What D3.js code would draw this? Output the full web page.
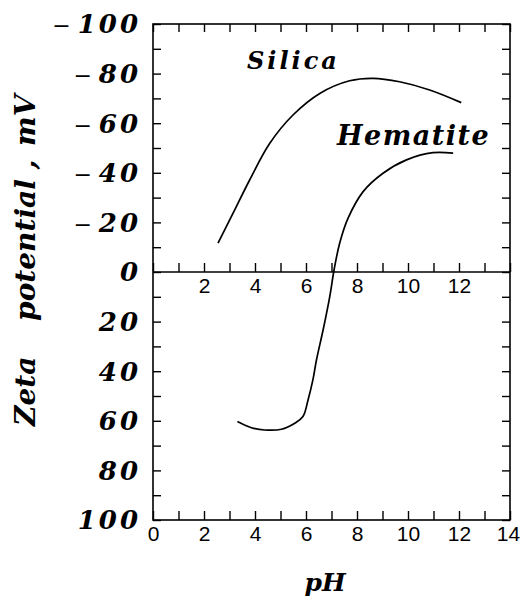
<!DOCTYPE html>
<html>
<head>
<meta charset="utf-8">
<script src="https://cdn.jsdelivr.net/npm/d3@7"></script>
<style>
  body { margin: 0; background: #fff; }
  svg { display: block; }
</style>
</head>
<body>
<div id="chart"></div>
<script>
// zeta potential vs pH
var silicaPH   = [2.55, 3.14, 3.79, 4.58, 5.49, 6.54, 7.71, 8.63, 9.67, 10.85, 12.09]
var silicaZeta = [-11.6, -23.7, -37.1, -51.9, -63.3, -72, -77.1, -78.1, -76.7, -73.4, -68.3]

var hematitePH   = [3.31, 3.86, 4.38, 5.04, 5.56, 5.88, 6.08, 6.27, 6.41, 6.67, 6.93, 7.10, 7.32, 7.65, 8.24, 9.02, 9.94, 10.98, 11.77]
var hematiteZeta = [60.3, 62.8, 63.7, 63.4, 61, 58.3, 51.6, 43.5, 35.5, 23.4, 10, -0.8, -11.6, -21.7, -32.4, -39.8, -45.2, -48.1, -47.9]

var yTickValues = [-100, -80, -60, -40, -20, 0, 20, 40, 60, 80, 100]
var xTickLabels = [0, 2, 4, 6, 8, 10, 12, 14]
var midTickLabels = [2, 4, 6, 8, 10, 12]

var serif = "'DejaVu Serif', serif"
var sans = "'Liberation Sans', Arial, sans-serif"

var W = 521, H = 596
var margin = {left: 153, right: 510, top: 24, bottom: 520}

var svg = d3.select("#chart")
  .append("svg")
    .attr("width", W)
    .attr("height", H)

var x = d3.scaleLinear()
  .domain([0, 14])
  .range([margin.left, margin.right])

var y = d3.scaleLinear()
  .domain([-100, 100])
  .range([margin.top, margin.bottom])

// frame
svg.append("rect")
  .attr("x", margin.left).attr("y", margin.top)
  .attr("width", margin.right - margin.left).attr("height", margin.bottom - margin.top)
  .attr("fill", "none").attr("stroke", "#000").attr("stroke-width", 1.6)

function styleAxis(g){
  g.select(".domain").remove()
  g.selectAll(".tick line").attr("stroke", "#000").attr("stroke-width", 1.4)
}

// top ticks
svg.append("g")
  .attr("transform", "translate(0," + margin.top + ")")
  .call(d3.axisTop(x).ticks(14).tickSize(-8).tickFormat(""))
  .call(styleAxis)

// bottom ticks + labels
svg.append("g")
  .attr("transform", "translate(0," + margin.bottom + ")")
  .call(d3.axisBottom(x).ticks(14).tickSize(-9).tickSizeOuter(0).tickPadding(6)
    .tickFormat(d => xTickLabels.includes(d) ? d : ""))
  .call(styleAxis)
  .call(g => g.selectAll("text")
    .attr("font-family", sans).attr("font-size", 21).attr("fill", "#000")
    .attr("dx", d => d == 14 ? -2 : 0))

// zero line with ticks
svg.append("line")
  .attr("x1", margin.left).attr("x2", margin.right)
  .attr("y1", y(0)).attr("y2", y(0))
  .attr("stroke", "#000").attr("stroke-width", 1.4)

svg.append("g")
  .attr("transform", "translate(0," + y(0) + ")")
  .call(d3.axisBottom(x).ticks(14).tickSize(-9).tickPadding(6)
    .tickFormat(d => midTickLabels.includes(d) ? d : ""))
  .call(styleAxis)
  .call(g => g.selectAll("text")
    .attr("font-family", sans).attr("font-size", 21).attr("fill", "#000"))

// left / right ticks
svg.append("g")
  .attr("transform", "translate(" + margin.left + ",0)")
  .call(d3.axisLeft(y).ticks(20).tickSize(-8).tickFormat(""))
  .call(styleAxis)

svg.append("g")
  .attr("transform", "translate(" + margin.right + ",0)")
  .call(d3.axisRight(y).ticks(20).tickSize(-8).tickFormat(""))
  .call(styleAxis)

// y tick labels: negative values above zero
var ls = 3
var ylab = svg.append("g")
  .attr("font-family", serif)
  .attr("font-weight", "bold")
  .attr("font-style", "italic")
  .attr("font-size", 26)
  .attr("fill", "#000")

yTickValues.forEach(function(v){
  var t = ylab.append("text")
    .attr("x", 138 + ls)
    .attr("y", y(v))
    .attr("dy", "0.36em")
    .attr("text-anchor", "end")
    .style("letter-spacing", ls + "px")
  if (v < 0) {
    t.append("tspan").text("\u2212")
      .attr("font-weight", "normal").attr("font-style", "normal")
      .attr("font-size", 22)
      .style("letter-spacing", "7px")
  }
  t.append("tspan").text(Math.abs(v))
})

// axis titles
var yTitle = svg.append("text")
  .attr("transform", "translate(35,426) rotate(-90)")
  .attr("font-family", serif)
  .attr("font-weight", "bold")
  .attr("font-style", "italic")
  .attr("font-size", 28)
  .attr("fill", "#000")
yTitle.append("tspan").text("Zeta")
yTitle.append("tspan").attr("dx", 26).text(" potential")
yTitle.append("tspan").text(" ,")
yTitle.append("tspan").attr("dx", 4).text(" mV")

svg.append("text")
  .attr("x", 325).attr("y", 591)
  .attr("text-anchor", "middle")
  .attr("font-family", serif)
  .attr("font-weight", "bold")
  .attr("font-style", "italic")
  .attr("font-size", 25)
  .text("pH")

// curves
var line = d3.line()
  .x(d => x(d[0]))
  .y(d => y(d[1]))
  .curve(d3.curveCatmullRom.alpha(0.5))

svg.append("path")
  .attr("d", line(d3.zip(silicaPH, silicaZeta)))
  .attr("fill", "none").attr("stroke", "#000").attr("stroke-width", 1.7)

svg.append("path")
  .attr("d", line(d3.zip(hematitePH, hematiteZeta)))
  .attr("fill", "none").attr("stroke", "#000").attr("stroke-width", 1.7)

// curve labels
svg.append("text")
  .attr("x", 247).attr("y", 69)
  .attr("font-family", serif).attr("font-weight", "bold").attr("font-style", "italic")
  .attr("font-size", 24)
  .style("letter-spacing", "3px")
  .text("Silica")

svg.append("text")
  .attr("x", 337).attr("y", 145)
  .attr("font-family", serif).attr("font-weight", "bold").attr("font-style", "italic")
  .attr("font-size", 27)
  .style("letter-spacing", "1.5px")
  .text("Hematite")
</script>
</body>
</html>
